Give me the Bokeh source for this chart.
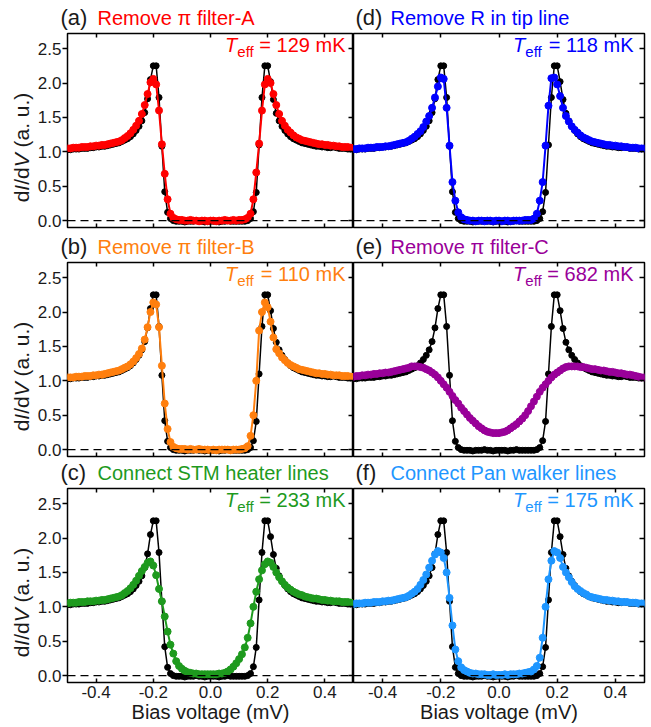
import numpy as np
from bokeh.plotting import figure
from bokeh.models import LinearAxis, FixedTicker, Span, Label, Range1d, PrintfTickFormatter
from bokeh.layouts import column, row
from bokeh.embed import file_html
from bokeh.resources import INLINE

# ---------------- data ----------------
bias = np.linspace(-0.5, 0.5, 101)  # bias sweep grid (mV)

reference_black = [
    1.03, 1.03, 1.04, 1.04, 1.04, 1.05, 1.05, 1.05, 1.06, 1.06,
    1.07, 1.07, 1.08, 1.08, 1.09, 1.10, 1.11, 1.12, 1.13, 1.15,
    1.17, 1.19, 1.22, 1.26, 1.31, 1.37, 1.45, 1.57, 1.77, 2.05,
    2.25, 2.25, 1.79, 1.08, 0.42, 0.12, 0.03, 0.00, -0.01, -0.01,
    -0.01, -0.02, -0.01, -0.01, -0.01, 0.00, -0.01, -0.01, -0.02, -0.01,
    -0.01,
    -0.01, -0.01, -0.02, -0.01, -0.01, 0.00, -0.01, -0.01, -0.01, -0.01,
    -0.01, -0.01, 0.00, 0.03, 0.13, 0.41, 1.10, 1.79, 2.25, 2.25,
    2.02, 1.76, 1.56, 1.45, 1.37, 1.31, 1.26, 1.22, 1.19, 1.17,
    1.15, 1.13, 1.12, 1.11, 1.10, 1.09, 1.08, 1.08, 1.07, 1.07,
    1.06, 1.06, 1.07, 1.06, 1.05, 1.05, 1.05, 1.04, 1.04, 1.04]

filter_a = [
    1.05, 1.05, 1.06, 1.06, 1.06, 1.07, 1.07, 1.07, 1.08, 1.08,
    1.09, 1.09, 1.10, 1.10, 1.11, 1.12, 1.13, 1.14, 1.15, 1.17,
    1.20, 1.23, 1.27, 1.32, 1.38, 1.45, 1.55, 1.68, 1.84, 2.01,
    2.06, 1.98, 1.60, 1.11, 0.68, 0.31, 0.10, 0.04, 0.02, 0.01,
    0.01, 0.00, 0.00, 0.01, 0.00, 0.00, -0.01, 0.00, 0.00, -0.01,
    0.00,
    0.00, -0.01, 0.00, 0.00, 0.01, 0.00, 0.00, 0.01, 0.00, 0.01,
    0.01, 0.02, 0.04, 0.10, 0.31, 0.70, 1.12, 1.60, 1.98, 2.06,
    2.00, 1.84, 1.68, 1.55, 1.45, 1.38, 1.32, 1.28, 1.24, 1.21,
    1.19, 1.17, 1.16, 1.15, 1.14, 1.13, 1.12, 1.11, 1.11, 1.10,
    1.10, 1.09, 1.09, 1.08, 1.08, 1.07, 1.07, 1.07, 1.06, 1.06]

filter_b = [
    1.05, 1.05, 1.05, 1.06, 1.06, 1.06, 1.07, 1.07, 1.07, 1.08,
    1.08, 1.09, 1.09, 1.10, 1.11, 1.12, 1.13, 1.14, 1.15, 1.17,
    1.19, 1.21, 1.24, 1.28, 1.33, 1.39, 1.47, 1.60, 1.78, 2.00,
    2.14, 2.11, 1.78, 1.22, 0.67, 0.30, 0.11, 0.04, 0.02, 0.01,
    0.01, 0.01, 0.00, 0.01, 0.00, 0.00, 0.01, 0.00, 0.00, 0.00,
    -0.01,
    0.00, -0.01, 0.00, 0.00, 0.00, 0.00, -0.01, 0.00, 0.00, 0.00,
    0.01, 0.02, 0.05, 0.20, 0.50, 1.00, 1.73, 2.00, 2.14, 2.07,
    1.86, 1.63, 1.46, 1.40, 1.34, 1.30, 1.26, 1.23, 1.21, 1.19,
    1.17, 1.16, 1.15, 1.14, 1.13, 1.12, 1.11, 1.11, 1.10, 1.10,
    1.09, 1.09, 1.08, 1.08, 1.08, 1.07, 1.07, 1.07, 1.06, 1.06]

heater_c = [
    1.05, 1.06, 1.06, 1.06, 1.07, 1.07, 1.07, 1.08, 1.08, 1.08,
    1.09, 1.09, 1.10, 1.10, 1.11, 1.12, 1.13, 1.14, 1.15, 1.17,
    1.20, 1.23, 1.27, 1.32, 1.38, 1.45, 1.52, 1.58, 1.64, 1.66,
    1.60, 1.46, 1.26, 1.08, 0.86, 0.64, 0.45, 0.32, 0.21, 0.14,
    0.10, 0.07, 0.05, 0.04, 0.03, 0.03, 0.02, 0.02, 0.02, 0.02,
    0.02,
    0.02, 0.02, 0.03, 0.03, 0.04, 0.06, 0.09, 0.13, 0.18, 0.24,
    0.31, 0.41, 0.55, 0.76, 1.00, 1.22, 1.40, 1.53, 1.62, 1.66,
    1.64, 1.58, 1.50, 1.43, 1.37, 1.32, 1.28, 1.25, 1.22, 1.20,
    1.18, 1.17, 1.15, 1.14, 1.13, 1.12, 1.12, 1.11, 1.10, 1.10,
    1.09, 1.09, 1.08, 1.08, 1.08, 1.07, 1.07, 1.07, 1.06, 1.06]

tip_d = [
    1.04, 1.04, 1.05, 1.05, 1.05, 1.06, 1.06, 1.06, 1.07, 1.07,
    1.07, 1.08, 1.08, 1.09, 1.10, 1.11, 1.12, 1.13, 1.14, 1.16,
    1.19, 1.22, 1.26, 1.30, 1.36, 1.44, 1.52, 1.64, 1.79, 1.95,
    2.08, 2.06, 1.64, 1.09, 0.56, 0.29, 0.12, 0.05, 0.02, 0.01,
    0.00, 0.00, -0.01, 0.00, 0.00, -0.01, 0.00, 0.00, -0.01, 0.00,
    0.00,
    -0.01, 0.00, 0.00, -0.01, 0.00, 0.00, 0.00, 0.00, 0.01, 0.01,
    0.01, 0.03, 0.10, 0.29, 0.56, 1.09, 1.67, 2.07, 2.08, 1.98,
    1.81, 1.64, 1.52, 1.44, 1.37, 1.32, 1.28, 1.24, 1.21, 1.19,
    1.17, 1.15, 1.14, 1.13, 1.12, 1.11, 1.10, 1.10, 1.09, 1.09,
    1.08, 1.08, 1.07, 1.07, 1.06, 1.06, 1.06, 1.05, 1.05, 1.05]

filter_c = [
    1.06, 1.07, 1.07, 1.08, 1.08, 1.09, 1.09, 1.10, 1.10, 1.11,
    1.11, 1.12, 1.12, 1.13, 1.14, 1.15, 1.16, 1.17, 1.18, 1.19,
    1.21, 1.21, 1.21, 1.20, 1.19, 1.17, 1.15, 1.12, 1.09, 1.05,
    1.00, 0.95, 0.90, 0.84, 0.78, 0.72, 0.67, 0.61, 0.56, 0.51,
    0.46, 0.42, 0.38, 0.34, 0.31, 0.28, 0.26, 0.25, 0.24, 0.24,
    0.24,
    0.25, 0.26, 0.28, 0.31, 0.34, 0.37, 0.41, 0.45, 0.50, 0.56,
    0.63, 0.70, 0.77, 0.84, 0.90, 0.95, 1.00, 1.05, 1.09, 1.12,
    1.15, 1.18, 1.20, 1.21, 1.21, 1.21, 1.21, 1.20, 1.20, 1.19,
    1.18, 1.17, 1.17, 1.16, 1.15, 1.15, 1.14, 1.13, 1.13, 1.12,
    1.11, 1.11, 1.10, 1.09, 1.09, 1.08, 1.07, 1.06, 1.05, 1.05]

walker_f = [
    1.04, 1.05, 1.05, 1.05, 1.06, 1.06, 1.06, 1.07, 1.07, 1.07,
    1.08, 1.08, 1.09, 1.09, 1.10, 1.11, 1.12, 1.13, 1.14, 1.16,
    1.19, 1.22, 1.26, 1.32, 1.39, 1.47, 1.57, 1.67, 1.76, 1.81,
    1.79, 1.71, 1.50, 1.13, 0.73, 0.38, 0.21, 0.12, 0.08, 0.06,
    0.04, 0.03, 0.03, 0.02, 0.02, 0.02, 0.01, 0.01, 0.02, 0.01,
    0.01,
    0.01, 0.02, 0.01, 0.02, 0.02, 0.02, 0.03, 0.03, 0.04, 0.05,
    0.06, 0.09, 0.14, 0.26, 0.55, 1.00, 1.40, 1.67, 1.81, 1.79,
    1.71, 1.58, 1.50, 1.43, 1.36, 1.30, 1.26, 1.23, 1.20, 1.18,
    1.15, 1.14, 1.13, 1.12, 1.11, 1.10, 1.10, 1.09, 1.09, 1.08,
    1.08, 1.07, 1.07, 1.07, 1.06, 1.06, 1.06, 1.05, 1.05, 1.05]

panel_letters = ["(a)", "(b)", "(c)", "(d)", "(e)", "(f)"]
panel_titles = ["Remove \u03c0 filter-A", "Remove \u03c0 filter-B", "Connect STM heater lines",
                "Remove R in tip line", "Remove \u03c0 filter-C", "Connect Pan walker lines"]
panel_teff = ["129", "110", "233", "118", "682", "175"]
panel_colors = ["#FF0000", "#FF7F0E", "#1E9A1E", "#0000FF", "#990099", "#1E96FF"]
panel_series = [filter_a, filter_b, heater_c, tip_d, filter_c, walker_f]

x_ticks = [-0.4, -0.2, 0.0, 0.2, 0.4]
y_ticks = [0.0, 0.5, 1.0, 1.5, 2.0, 2.5]

# ---------------- layout constants ----------------
FONT = "Liberation Sans"
TXT = "#1a1a1a"
YMIN, YMAX = -0.1, 2.72
FH = 194
FW_L, FW_R = 289, 291
STRIP_W = 34       # width of y-label strip
LB = 64 - STRIP_W  # left border of left panels (tick labels)
TITLE_H = [32, 30, 27]
BOTTOM_B = [4, 4, 45]
TOTAL_W = STRIP_W + LB + FW_L + FW_R + 2

W = {' ': 0.278, '=': 0.584, 'm': 0.833, 'K': 0.667, 'e': 0.556, 'f': 0.278, 'T': 0.611,
     'd': 0.556, 'I': 0.278, '/': 0.278, 'V': 0.667, '(': 0.333, ')': 0.333, 'a': 0.556,
     '.': 0.278, 'u': 0.556}
for c in "0123456789":
    W[c] = 0.556


def tw(s, fs):
    return sum(W.get(c, 0.556) for c in s) * fs


def blank(width, height, top=0, bottom=0):
    f = figure(width=width, height=height, x_range=Range1d(0, 1), y_range=Range1d(0, 1),
               x_axis_location=None, y_axis_location=None, toolbar_location=None,
               output_backend="svg", min_border=0, min_border_top=top,
               min_border_bottom=bottom)
    for g in f.grid:
        g.visible = False
    f.outline_line_color = None
    f.background_fill_color = "white"
    f.border_fill_color = "white"
    return f


def tick_axis(ticks, fixed, tin, tout=0):
    ax = LinearAxis(ticker=FixedTicker(ticks=ticks), fixed_location=fixed,
                    major_label_overrides={t: "" for t in ticks})
    ax.major_tick_in = tin
    ax.major_tick_out = tout
    ax.minor_tick_line_color = None
    ax.axis_line_color = None
    ax.major_tick_line_width = 1.5
    ax.major_label_standoff = 0
    return ax


def make_title_row(r):
    t = blank(TOTAL_W, TITLE_H[r])
    for i, (xl, xt) in ((r, (60, 97)), (r + 3, (355, 390))):
        t.add_layout(Label(x=xl, y=3, x_units="screen", y_units="screen",
                           text=panel_letters[i], text_font=FONT, text_font_size="22px",
                           text_color=TXT))
        t.add_layout(Label(x=xt, y=4, x_units="screen", y_units="screen",
                           text=panel_titles[i], text_font=FONT, text_font_size="20px",
                           text_color=panel_colors[i]))
    return t


def make_strip(r):
    bb = BOTTOM_B[r]
    s = blank(STRIP_W, FH + 1 + bb, top=1, bottom=bb)
    fs = 21
    pieces = [("d", "normal"), ("I", "italic"), ("/d", "normal"), ("V", "italic"),
              ("\u00a0(a. u.)", "normal")]
    total = sum(tw(t.replace("\u00a0", " "), fs) for t, _ in pieces)
    y0 = FH / 2 - 17 - total / 2
    for t, st in pieces:
        s.add_layout(Label(x=21, y=y0, x_units="screen", y_units="screen", text=t,
                           angle=np.pi / 2, text_font=FONT, text_font_size=f"{fs}px",
                           text_font_style=st, text_color=TXT,
                           text_baseline="middle", text_align="left"))
        y0 += tw(t.replace("\u00a0", " "), fs)
    return s


def make_panel(i):
    col = i // 3
    r = i % 3
    left = col == 0
    bottom = r == 2
    color = panel_colors[i]
    bb = BOTTOM_B[r]
    lb = LB if left else 0
    rb = 0 if left else 2
    fw = FW_L if left else FW_R
    p = figure(width=fw + lb + rb, height=FH + 1 + bb,
               x_range=Range1d(-0.5, 0.5), y_range=Range1d(YMIN, YMAX),
               x_axis_location=None, y_axis_location=None,
               toolbar_location=None, output_backend="svg",
               min_border=0, min_border_left=lb, min_border_right=rb,
               min_border_top=1, min_border_bottom=bb)
    for g in p.grid:
        g.visible = False
    p.outline_line_color = "black"
    p.outline_line_width = 1.5
    p.background_fill_color = "white"
    p.border_fill_color = "white"

    if left:
        ya = LinearAxis(ticker=FixedTicker(ticks=y_ticks),
                        formatter=PrintfTickFormatter(format="%.1f"))
        ya.major_tick_in = 0
        ya.major_tick_out = 5
        ya.major_tick_line_width = 1.5
        ya.minor_tick_line_color = None
        ya.axis_line_color = None
        ya.major_label_text_font = FONT
        ya.major_label_text_font_size = "17px"
        ya.major_label_text_color = TXT
        ya.major_label_standoff = 1
        p.add_layout(ya, "left")
    p.add_layout(tick_axis(y_ticks, 0.5, 5), "right")
    p.add_layout(tick_axis(x_ticks, YMAX, 4), "above")
    if bottom:
        xa = LinearAxis(ticker=FixedTicker(ticks=x_ticks),
                        formatter=PrintfTickFormatter(format="%.1f"),
                        axis_label="Bias voltage (mV)")
        xa.major_tick_in = 4
        xa.major_tick_out = 0
        xa.major_tick_line_width = 1.5
        xa.minor_tick_line_color = None
        xa.axis_line_color = None
        xa.major_label_text_font = FONT
        xa.major_label_text_font_size = "17px"
        xa.major_label_text_color = TXT
        xa.major_label_standoff = 3
        xa.axis_label_text_font = FONT
        xa.axis_label_text_font_size = "20px"
        xa.axis_label_text_font_style = "normal"
        xa.axis_label_text_color = TXT
        xa.axis_label_standoff = 0
        p.add_layout(xa, "below")
    else:
        p.add_layout(tick_axis(x_ticks, YMIN, 4), "below")

    p.add_layout(Span(location=0, dimension="width", line_color="black",
                      line_width=1.3, line_dash="8 5"))

    p.line(bias, reference_black, line_color="black", line_width=1.5)
    p.scatter(bias, reference_black, size=6, fill_color="black", line_color="black")
    p.line(bias, panel_series[i], line_color=color, line_width=2)
    p.scatter(bias, panel_series[i], size=7, fill_color=color, line_color=color)

    # T_eff annotation (inside the frame)
    main = "= " + panel_teff[i] + " mK"
    xr = fw - 11
    yb = FH - 22
    p.add_layout(Label(x=xr, y=yb, x_units="screen", y_units="screen", text=main,
                       text_align="right", text_font=FONT, text_font_size="20px",
                       text_color=color))
    x_eff = xr - tw(main, 20) - tw(" ", 20)
    p.add_layout(Label(x=x_eff, y=yb - 4, x_units="screen", y_units="screen", text="eff",
                       text_align="right", text_font=FONT, text_font_size="15px",
                       text_color=color))
    x_t = x_eff - tw("eff", 15)
    p.add_layout(Label(x=x_t, y=yb, x_units="screen", y_units="screen", text="T",
                       text_align="right", text_font=FONT, text_font_size="20px",
                       text_font_style="italic", text_color=color))
    return p


items = []
for r in range(3):
    items.append(make_title_row(r))
    items.append(row(make_strip(r), make_panel(r), make_panel(r + 3)))
layout = column(*items)

open("out.html", "w").write(file_html(layout, INLINE))
